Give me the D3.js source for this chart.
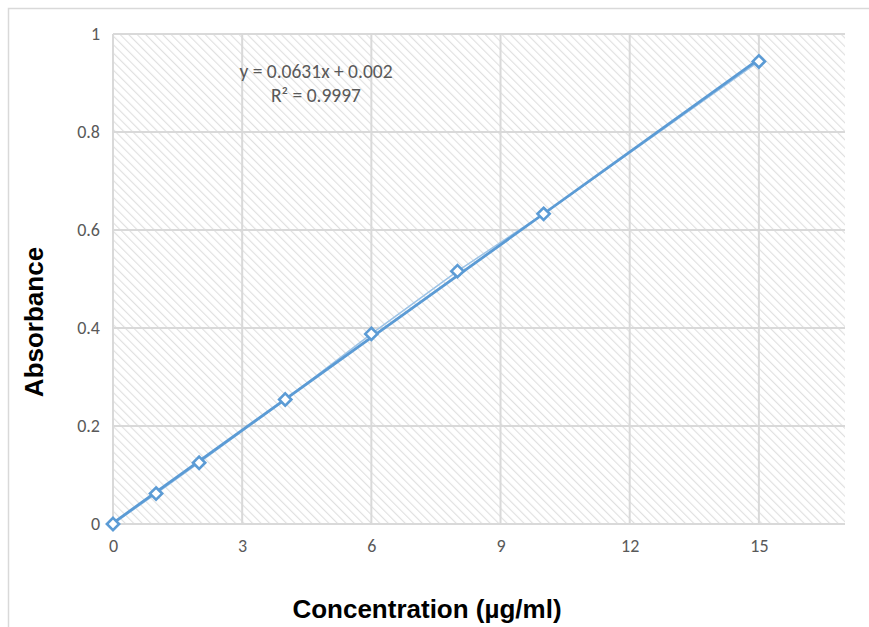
<!DOCTYPE html>
<html>
<head>
<meta charset="utf-8">
<script src="https://cdn.jsdelivr.net/npm/d3@7"></script>
<style>
  body { margin: 0; background: #fff; }
  svg { display: block; }
</style>
</head>
<body>
<svg id="chart"></svg>
<script>
const concentration = [0, 1, 2, 4, 6, 8, 10, 15],
	absorbance = [0, 0.062, 0.125, 0.254, 0.388, 0.516, 0.633, 0.944];

const xTicks = [0, 3, 6, 9, 12, 15],
	yTicks = [0, 0.2, 0.4, 0.6, 0.8, 1];

const slope = 0.0631,
	intercept = 0.002,
	eqLabels = ['y = 0.0631x + 0.002', 'R² = 0.9997'];

const width = 869,
	height = 627,
	plot = { left: 113, right: 845, top: 34, bottom: 524 };

const svg = d3.select('svg#chart')
	.attr('width', width)
	.attr('height', height);

// hatched plot background
const pat = svg.append('defs').append('pattern')
	.attr('id', 'hatch')
	.attr('patternUnits', 'userSpaceOnUse')
	.attr('width', 6)
	.attr('height', 6)
	.attr('patternTransform', 'rotate(-45)');
pat.append('rect').attr('width', 6).attr('height', 6).attr('fill', '#ffffff');
pat.append('line')
	.attr('x1', 0).attr('y1', 0).attr('x2', 0).attr('y2', 6)
	.attr('stroke', '#e0e0e0')
	.attr('stroke-width', 2.2);

// outer frame
svg.append('rect')
	.attr('x', 8.5).attr('y', 8.5)
	.attr('width', width + 20).attr('height', height + 20)
	.attr('fill', 'none')
	.attr('stroke', '#d9d9d9')
	.attr('stroke-width', 1.5);

const x = d3.scaleLinear().domain([0, 17]).range([plot.left, plot.right]),
	y = d3.scaleLinear().domain([0, 1]).range([plot.bottom, plot.top]);

svg.append('rect')
	.attr('x', plot.left).attr('y', plot.top)
	.attr('width', plot.right - plot.left)
	.attr('height', plot.bottom - plot.top)
	.attr('fill', 'url(#hatch)');

// gridlines
const grid = svg.append('g');
grid.selectAll('line.gx').data(xTicks).enter().append('line')
	.attr('x1', d => x(d)).attr('x2', d => x(d))
	.attr('y1', plot.top).attr('y2', plot.bottom)
	.attr('stroke', '#d9d9d9').attr('stroke-width', 2);
grid.selectAll('line.gy').data(yTicks).enter().append('line')
	.attr('x1', plot.left).attr('x2', plot.right)
	.attr('y1', d => y(d)).attr('y2', d => y(d))
	.attr('stroke', '#d9d9d9').attr('stroke-width', 2);

// axes (labels only)
const xAxis = svg.append('g')
	.attr('transform', `translate(0,${plot.bottom + 12})`)
	.call(d3.axisBottom(x).tickValues(xTicks).tickSize(0).tickFormat(d3.format('d')));
const yAxis = svg.append('g')
	.attr('transform', `translate(${plot.left - 10},0)`)
	.call(d3.axisLeft(y).tickValues(yTicks).tickSize(0).tickFormat(d => d3.format('')(+d.toFixed(1))));
[xAxis, yAxis].forEach(a => {
	a.select('.domain').remove();
	a.selectAll('text')
		.attr('fill', '#595959')
		.style('font-family', 'Calibri, Carlito, "Open Sans", sans-serif')
		.style('font-size', '18px');
});

// series line + trendline
const line = d3.line().x(d => x(d[0])).y(d => y(d[1]));
const pts = concentration.map((c, i) => [c, absorbance[i]]);

svg.append('path')
	.datum(pts)
	.attr('d', line)
	.attr('fill', 'none')
	.attr('stroke', '#9dc3e6')
	.attr('stroke-width', 1.5);

svg.append('path')
	.datum([0, 15].map(c => [c, slope * c + intercept]))
	.attr('d', line)
	.attr('fill', 'none')
	.attr('stroke', '#5b9bd5')
	.attr('stroke-width', 2.8);

svg.append('g').selectAll('path.pt').data(pts).enter().append('path')
	.attr('d', d3.symbol(d3.symbolDiamond2, 95))
	.attr('transform', d => `translate(${x(d[0])},${y(d[1])})`)
	.attr('fill', '#ffffff')
	.attr('stroke', '#5b9bd5')
	.attr('stroke-width', 2.6);

// equation
svg.append('g').selectAll('text').data(eqLabels).enter().append('text')
	.attr('x', 316)
	.attr('y', (d, i) => 78 + i * 24)
	.attr('text-anchor', 'middle')
	.attr('fill', '#595959')
	.style('font-family', 'Calibri, Carlito, "Open Sans", sans-serif')
	.style('font-size', '19.5px')
	.text(d => d);

// axis titles
svg.append('text')
	.attr('x', 427).attr('y', 618)
	.attr('text-anchor', 'middle')
	.style('font-family', '"Liberation Sans", Arial, sans-serif')
	.style('font-weight', 'bold')
	.style('font-size', '26px')
	.text('Concentration (µg/ml)');

svg.append('text')
	.attr('transform', 'translate(43,322) rotate(-90)')
	.attr('text-anchor', 'middle')
	.style('font-family', '"Liberation Sans", Arial, sans-serif')
	.style('font-weight', 'bold')
	.style('font-size', '26px')
	.text('Absorbance');
</script>
</body>
</html>
